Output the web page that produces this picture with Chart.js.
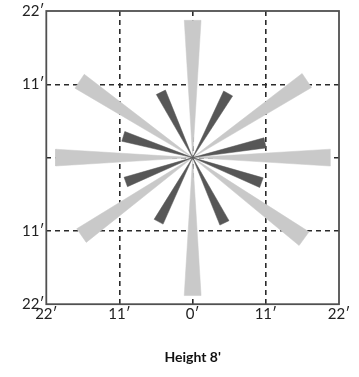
<!DOCTYPE html>
<html><head><meta charset="utf-8">
<script src="https://cdn.jsdelivr.net/npm/chart.js@4/dist/chart.umd.min.js"></script>
<style>html,body{margin:0;padding:0;background:#fff}#wrap{width:359px;height:377px;position:relative}</style>
</head><body><div id="wrap"><canvas id="c"></canvas></div>
<script>
// Tick positions (feet)
const xTicks = [-22, -11, 0, 11, 22];
const yTicks = [-22, -11, 0, 11, 22];
// Long light spokes: direction (degrees, counter-clockwise from +x) and reach (feet)
const lightAngles = [0, 34, 90, 146, 180, 215, 270, 324];
const lightLengths = [20.7, 20.7, 20.6, 20.5, 20.6, 20.4, 20.7, 20.7];
// Short dark spokes
const darkAngles = [11.5, 61, 116, 163, 200, 242, 296, 340];
const darkLengths = [11.1, 11.0, 10.9, 10.9, 10.7, 10.9, 10.9, 11.0];
const axisTitle = "Height 8'";

function wedge(angleDeg, len, halfDeg) {
  const rad = Math.PI / 180;
  const r = len / Math.cos(halfDeg * rad);
  const a1 = (angleDeg - halfDeg) * rad, a2 = (angleDeg + halfDeg) * rad;
  return [
    {x: 0, y: 0},
    {x: r * Math.cos(a1), y: r * Math.sin(a1)},
    {x: r * Math.cos(a2), y: r * Math.sin(a2)},
    {x: 0, y: 0}
  ];
}

const datasets = [];
darkAngles.forEach((a, i) => datasets.push({
  data: wedge(a, darkLengths[i], 4.0),
  showLine: true, fill: 'shape', backgroundColor: '#575757', borderColor: '#575757',
  borderWidth: 0.5, pointRadius: 0, pointHoverRadius: 0, tension: 0
}));
lightAngles.forEach((a, i) => datasets.push({
  data: wedge(a, lightLengths[i], 3.5),
  showLine: true, fill: 'shape', backgroundColor: '#c9c9c9', borderColor: '#c9c9c9',
  borderWidth: 0.5, pointRadius: 0, pointHoverRadius: 0, tension: 0
}));

const boxPlugin = {
  id: 'box',
  afterDatasetsDraw(chart) {
    const {ctx, chartArea: a} = chart;
    ctx.save();
    ctx.strokeStyle = '#505050';
    ctx.lineWidth = 1.8;
    ctx.strokeRect(a.left, a.top, a.right - a.left, a.bottom - a.top);
    ctx.restore();
  }
};

const gridColor = c => (c.tick && Math.abs(c.tick.value) === 22) ? 'rgba(0,0,0,0)' : '#2a2a2a';
const tickFont = {family: 'Lato', size: 15};

new Chart(document.getElementById('c'), {
  type: 'scatter',
  data: {datasets},
  plugins: [boxPlugin],
  options: {
    responsive: true, maintainAspectRatio: false, animation: false,
    layout: {padding: {left: 20, right: 20, top: 9, bottom: 11}},
    plugins: {legend: {display: false}, tooltip: {enabled: false}},
    scales: {
      x: {
        type: 'linear', min: -22, max: 22,
        afterBuildTicks: ax => { ax.ticks = xTicks.map(v => ({value: v})); },
        ticks: {callback: v => Math.abs(v) + '\u2032', font: tickFont, color: '#222', padding: 1, maxRotation: 0},
        grid: {color: gridColor, lineWidth: 1.6, drawTicks: false},
        border: {display: false, dash: [5, 4]},
        title: {display: true, text: axisTitle, font: {family: 'Lato', size: 14, weight: 'bold'}, color: '#111', padding: {top: 25, bottom: 0}}
      },
      y: {
        type: 'linear', min: -22, max: 22,
        afterBuildTicks: ax => { ax.ticks = yTicks.map(v => ({value: v})); },
        ticks: {callback: v => v === 0 ? '' : Math.abs(v) + '\u2032', font: tickFont, color: '#222', padding: 2},
        grid: {color: gridColor, lineWidth: 1.6, drawTicks: false},
        border: {display: false, dash: [5, 4]}
      }
    }
  }
});
</script></body></html>
